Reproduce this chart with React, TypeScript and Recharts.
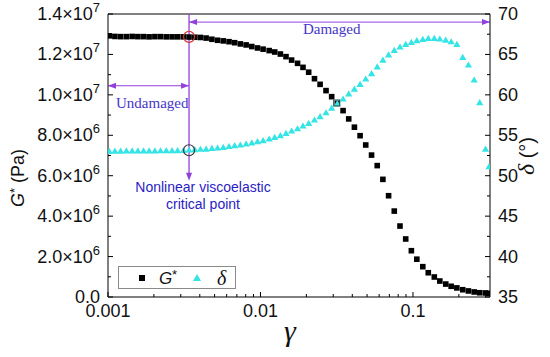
import React from 'react';
import {
  ScatterChart,
  Scatter,
  XAxis,
  YAxis,
  ReferenceLine,
  ReferenceDot,
  Legend
} from 'recharts';

// strain amplitude (gamma)
const strain = [
  0.00102, 0.00111, 0.00121, 0.00132, 0.00144, 0.00157, 0.00171, 0.00186, 0.00203, 0.00221,
  0.00241, 0.00263, 0.00286, 0.00312, 0.0034, 0.00371, 0.00404, 0.0044, 0.0048, 0.00523,
  0.0057, 0.00622, 0.00677, 0.00738, 0.00805, 0.00877, 0.00956, 0.0104, 0.0114, 0.0124,
  0.0135, 0.0147, 0.016, 0.0175, 0.019, 0.0207, 0.0226, 0.0246, 0.0269, 0.0293,
  0.0319, 0.0348, 0.0379, 0.0413, 0.045, 0.049, 0.0535, 0.0583, 0.0635, 0.0692,
  0.0754, 0.0822, 0.0896, 0.0976, 0.106, 0.116, 0.126, 0.138, 0.15, 0.164,
  0.178, 0.194, 0.212, 0.231, 0.252, 0.274, 0.299, 0.315
];

// complex modulus G* (Pa)
const gStar = [
  1.292e7, 1.289e7, 1.288e7, 1.288e7, 1.289e7, 1.288e7, 1.288e7, 1.287e7, 1.288e7, 1.288e7,
  1.287e7, 1.287e7, 1.287e7, 1.287e7, 1.286e7, 1.285e7, 1.284e7, 1.281e7, 1.275e7, 1.27e7,
  1.267e7, 1.263e7, 1.258e7, 1.252e7, 1.247e7, 1.239e7, 1.232e7, 1.226e7, 1.219e7, 1.212e7,
  1.202e7, 1.189e7, 1.172e7, 1.156e7, 1.136e7, 1.112e7, 1.08e7, 1.052e7, 1.021e7, 9.91e6,
  9.58e6, 9.22e6, 8.81e6, 8.4e6, 7.98e6, 7.52e6, 7.02e6, 6.5e6, 5.82e6, 5.01e6,
  4.25e6, 3.51e6, 2.87e6, 2.29e6, 1.87e6, 1.5e6, 1.2e6, 9.9e5, 7.9e5, 6.4e5,
  5.3e5, 4.5e5, 3.6e5, 3.0e5, 2.5e5, 2.1e5, 2.0e5, 1.8e5
];

// phase angle delta (deg)
const delta = [
  53.0, 53.05, 53.05, 53.07, 53.06, 53.06, 53.08, 53.07, 53.08, 53.09,
  53.1, 53.1, 53.11, 53.12, 53.18, 53.22, 53.27, 53.3, 53.37, 53.43,
  53.51, 53.61, 53.71, 53.8, 53.92, 54.05, 54.21, 54.35, 54.54, 54.75,
  54.95, 55.24, 55.53, 55.81, 56.15, 56.48, 56.89, 57.3, 57.79, 58.37,
  58.91, 59.49, 60.11, 60.72, 61.3, 61.96, 62.62, 63.45, 64.3, 64.95,
  65.5, 65.92, 66.25, 66.5, 66.7, 66.87, 66.99, 66.99, 66.91, 66.78,
  66.57, 66.25, 64.64, 63.69, 61.84, 59.03, 53.3, 51.11
];

const xTicks = [
  0.001, 0.002, 0.003, 0.004, 0.005, 0.006, 0.007, 0.008, 0.009,
  0.01, 0.02, 0.03, 0.04, 0.05, 0.06, 0.07, 0.08, 0.09,
  0.1, 0.2, 0.3
];
const xMajor = [0.001, 0.01, 0.1];
const leftTicks = [0, 1e6, 2e6, 3e6, 4e6, 5e6, 6e6, 7e6, 8e6, 9e6, 1e7, 1.1e7, 1.2e7, 1.3e7, 1.4e7];
const rightTicks = [35, 37.5, 40, 42.5, 45, 47.5, 50, 52.5, 55, 57.5, 60, 62.5, 65, 67.5, 70];

const criticalStrain = 0.0034;

const gData = strain.map((x, i) => ({ x, y: gStar[i] }));
const dData = strain.map((x, i) => ({ x, y: delta[i] }));

const SANS = '"Liberation Sans", Arial, sans-serif';
const SERIF = '"Liberation Serif", "Times New Roman", serif';
const PURPLE = '#9140dc';
const CYAN = '#35e4e4';

const renderXTick = (props: any) => {
  const { x, y, payload } = props;
  const v = payload.value;
  const major = xMajor.includes(v);
  return (
    <g>
      <line x1={x} x2={x} y1={y} y2={y - (major ? 5 : 3)} stroke="#000" />
      {major && (
        <text x={x} y={y + 20} textAnchor="middle" fontSize={18} fontFamily={SANS} fill="#111">
          {String(v)}
        </text>
      )}
    </g>
  );
};

const renderLeftTick = (props: any) => {
  const { x, y, payload } = props;
  const v = payload.value;
  const major = Math.round(v / 1e6) % 2 === 0;
  let label: React.ReactNode = null;
  if (major) {
    if (v === 0) {
      label = '0.0';
    } else {
      const exp = Math.floor(Math.log10(v) + 1e-9);
      const mant = (v / Math.pow(10, exp)).toFixed(1);
      label = (
        <>
          <tspan>{mant}×10</tspan>
          <tspan dy={-8} fontSize={13}>{exp}</tspan>
        </>
      );
    }
  }
  return (
    <g>
      <line x1={x} x2={x + (major ? 5 : 3)} y1={y} y2={y} stroke="#000" />
      {major && (
        <text x={x - 8} y={y + 6} textAnchor="end" fontSize={18} fontFamily={SANS} fill="#111">
          {label}
        </text>
      )}
    </g>
  );
};

const renderRightTick = (props: any) => {
  const { x, y, payload } = props;
  const v = payload.value;
  const major = v % 5 === 0;
  return (
    <g>
      <line x1={x} x2={x - (major ? 5 : 3)} y1={y} y2={y} stroke="#000" />
      {major && (
        <text x={x + 8} y={y + 6} textAnchor="start" fontSize={18} fontFamily={SANS} fill="#111">
          {v}
        </text>
      )}
    </g>
  );
};

const squareShape = (props: any) => {
  const { cx, cy } = props;
  return <rect x={cx - 2.8} y={cy - 2.8} width={5.6} height={5.6} fill="#000" />;
};

const triangleShape = (props: any) => {
  const { cx, cy } = props;
  return <path d={`M${cx},${cy - 3.6}L${cx + 3.6},${cy + 2.6}L${cx - 3.6},${cy + 2.6}Z`} fill={CYAN} />;
};

const arrowHead = (dir: 'left' | 'right' | 'down') => (props: any) => {
  const { cx, cy } = props;
  let d = '';
  if (dir === 'left') d = `M${cx},${cy}L${cx + 8},${cy - 3}L${cx + 8},${cy + 3}Z`;
  if (dir === 'right') d = `M${cx},${cy}L${cx - 8},${cy - 3}L${cx - 8},${cy + 3}Z`;
  if (dir === 'down') d = `M${cx},${cy}L${cx - 3},${cy - 8}L${cx + 3},${cy - 8}Z`;
  return <path d={d} fill={PURPLE} />;
};

const ringShape = (color: string) => (props: any) => (
  <circle cx={props.cx} cy={props.cy} r={5.5} fill="none" stroke={color} strokeWidth={1.2} />
);

const textShape = (lines: string[], color: string, family: string, size: number) => (props: any) => (
  <text x={props.cx} y={props.cy} textAnchor="middle" fontSize={size} fontFamily={family} fill={color}>
    {lines.map((l, i) => (
      <tspan key={i} x={props.cx} dy={i === 0 ? 0 : size * 1.2}>{l}</tspan>
    ))}
  </text>
);

const renderLegend = () => (
  <div
    style={{
      width: 116,
      height: 21,
      border: '1px solid #8a8a8a',
      background: '#fff',
      position: 'relative',
      fontFamily: SANS
    }}
  >
    <svg width={116} height={21} style={{ position: 'absolute', left: 0, top: 0 }}>
      <rect x={20} y={8} width={6} height={6} fill="#000" />
      <text x={40} y={17} fontSize={17} fontStyle="italic" fontFamily={SANS} fill="#111">G</text>
      <text x={53} y={12} fontSize={13} fontFamily={SANS} fill="#111">*</text>
      <path d="M78,7L82,14L74,14Z" fill={CYAN} />
      <text x={98} y={18} fontSize={20} fontStyle="italic" fontFamily={SERIF} fill="#111">δ</text>
    </svg>
  </div>
);

export default function App() {
  return (
    <div style={{ position: 'absolute', left: 0, top: 0, width: 550, height: 357, background: '#fff' }}>
      <ScatterChart width={550} height={357} margin={{ top: 14, right: 0, bottom: 0, left: 0 }}>
        <XAxis
          dataKey="x"
          type="number"
          scale="log"
          domain={[0.001, 0.32]}
          allowDataOverflow
          ticks={xTicks}
          interval={0}
          tick={renderXTick}
          tickLine={false}
          tickSize={0}
          tickMargin={0}
          axisLine={{ stroke: '#000' }}
          height={60}
          label={{
            content: () => (
              <text x={290} y={341} textAnchor="middle" fontSize={30} fontStyle="italic" fontFamily={SERIF} fill="#111">
                γ
              </text>
            )
          }}
        />
        <YAxis
          yAxisId="left"
          dataKey="y"
          type="number"
          domain={[0, 1.4e7]}
          allowDataOverflow
          ticks={leftTicks}
          interval={0}
          tick={renderLeftTick}
          tickLine={false}
          tickSize={0}
          tickMargin={0}
          axisLine={{ stroke: '#000' }}
          width={108}
          label={{
            content: () => (
              <text
                transform="translate(24,178) rotate(-90)"
                textAnchor="middle"
                fontSize={18}
                fontFamily={SANS}
                fill="#111"
              >
                <tspan fontStyle="italic">G</tspan>
                <tspan dy={-5} fontSize={13}>*</tspan>
                <tspan dy={5}> (Pa)</tspan>
              </text>
            )
          }}
        />
        <YAxis
          yAxisId="right"
          orientation="right"
          dataKey="y"
          type="number"
          domain={[35, 70]}
          allowDataOverflow
          ticks={rightTicks}
          interval={0}
          tick={renderRightTick}
          tickLine={false}
          tickSize={0}
          tickMargin={0}
          axisLine={{ stroke: '#000' }}
          width={60}
          label={{
            content: () => (
              <text
                transform="translate(534,156) rotate(-90)"
                textAnchor="middle"
                fontSize={20}
                fontFamily={SANS}
                fill="#111"
              >
                <tspan fontStyle="italic" fontFamily={SERIF} fontSize={24}>δ</tspan>
                <tspan> (°)</tspan>
              </text>
            )
          }}
        />

        <ReferenceLine yAxisId="left" y={1.4e7} stroke="#000" />

        <ReferenceLine
          yAxisId="left"
          segment={[{ x: criticalStrain, y: 1.4e7 }, { x: criticalStrain, y: 5.9e6 }]}
          stroke={PURPLE}
          strokeWidth={1.3}
        />
        <ReferenceLine
          yAxisId="left"
          segment={[{ x: criticalStrain, y: 1.36e7 }, { x: 0.32, y: 1.36e7 }]}
          stroke={PURPLE}
          strokeWidth={1}
        />
        <ReferenceLine
          yAxisId="left"
          segment={[{ x: 0.001, y: 1.045e7 }, { x: criticalStrain, y: 1.045e7 }]}
          stroke={PURPLE}
          strokeWidth={1}
        />

        <Scatter yAxisId="left" data={gData} shape={squareShape} isAnimationActive={false} name="G*" />
        <Scatter yAxisId="right" data={dData} shape={triangleShape} isAnimationActive={false} name="δ" />

        <ReferenceDot yAxisId="left" x={criticalStrain} y={5.75e6} ifOverflow="visible" shape={arrowHead('down')} />
        <ReferenceDot yAxisId="left" x={criticalStrain} y={1.36e7} ifOverflow="visible" shape={arrowHead('left')} />
        <ReferenceDot yAxisId="left" x={0.32} y={1.36e7} ifOverflow="visible" shape={arrowHead('right')} />
        <ReferenceDot yAxisId="left" x={0.001} y={1.045e7} ifOverflow="visible" shape={arrowHead('left')} />
        <ReferenceDot yAxisId="left" x={criticalStrain} y={1.045e7} ifOverflow="visible" shape={arrowHead('right')} />

        <ReferenceDot yAxisId="left" x={criticalStrain} y={1.287e7} ifOverflow="visible" shape={ringShape('#d23a3a')} />
        <ReferenceDot yAxisId="right" x={criticalStrain} y={53.15} ifOverflow="visible" shape={ringShape('#3a3a3a')} />
        <ReferenceDot
          yAxisId="left"
          x={0.0316}
          y={9.6e6}
          ifOverflow="visible"
          shape={(p: any) => (
            <rect x={p.cx - 3} y={p.cy - 3} width={6} height={6} fill="none" stroke="#2a5050" strokeWidth={1} />
          )}
        />

        <ReferenceDot
          yAxisId="left"
          x={0.00195}
          y={9.35e6}
          ifOverflow="visible"
          shape={textShape(['Undamaged'], '#4636c8', SERIF, 15)}
        />
        <ReferenceDot
          yAxisId="left"
          x={0.0293}
          y={1.3e7}
          ifOverflow="visible"
          shape={textShape(['Damaged'], '#4636c8', SERIF, 15)}
        />
        <ReferenceDot
          yAxisId="left"
          x={0.0042}
          y={5.2e6}
          ifOverflow="visible"
          shape={textShape(['Nonlinear viscoelastic', 'critical point'], '#2a22c4', SANS, 14)}
        />

        <Legend
          layout="horizontal"
          verticalAlign="middle"
          content={renderLegend}
          wrapperStyle={{ position: 'absolute', left: 118, top: 266, width: 118, height: 23 }}
        />
      </ScatterChart>
    </div>
  );
}
